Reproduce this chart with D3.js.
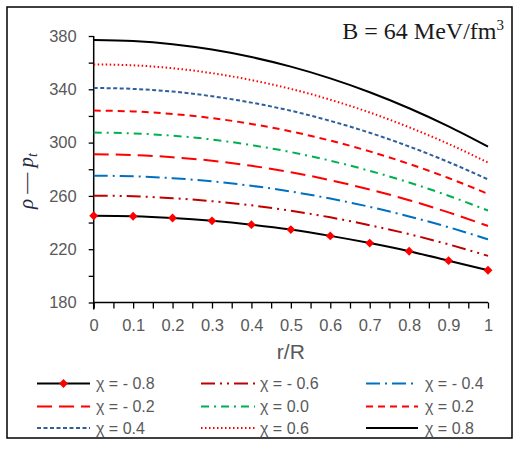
<!DOCTYPE html>
<html><head><meta charset="utf-8">
<script src="https://cdn.jsdelivr.net/npm/d3@7"></script>
<style>body{margin:0;background:#fff}svg{display:block}</style>
</head><body>
<script>
const xs = [0,0.1,0.2,0.3,0.4,0.5,0.6,0.7,0.8,0.9,1];
const chiLabels = ["χ = - 0.8","χ = - 0.6","χ = - 0.4","χ = - 0.2","χ = 0.0","χ = 0.2","χ = 0.4","χ = 0.6","χ = 0.8"];
const sM08 = [245.1,244.7,243.4,241.3,238.4,234.7,230.0,224.6,218.5,211.4,204.2];
const sM06 = [260.2,259.7,258.3,256.0,252.9,248.8,243.9,238.0,231.3,223.6,215.0];
const sM04 = [275.2,274.7,273.3,270.9,267.6,263.3,258.0,251.8,244.6,236.5,227.4];
const sM02 = [291.2,290.7,289.0,286.4,282.6,277.8,271.8,264.8,256.8,247.6,237.4];
const s00  = [307.5,306.9,305.2,302.3,298.1,292.9,286.4,278.8,270.1,260.1,249.0];
const s02  = [324.0,323.4,321.5,318.4,314.0,308.4,301.5,293.4,284.0,273.4,261.5];
const s04  = [341.0,340.3,338.3,334.8,330.0,323.9,316.3,307.4,297.1,285.4,272.4];
const s06  = [358.7,358.0,355.8,352.1,346.9,340.3,332.2,322.6,311.5,299.0,285.0];
const s08  = [377.0,376.2,373.8,369.8,364.2,357.0,348.2,337.8,325.8,312.2,297.0];
const yTicks = [180,220,260,300,340,380];
const xTickLabels = ["0","0.1","0.2","0.3","0.4","0.5","0.6","0.7","0.8","0.9","1"];

const series = [
  {name:chiLabels[0], vals:sM08, color:"#000000", dash:null, marker:true},
  {name:chiLabels[1], vals:sM06, color:"#C00000", dash:"14,5,2,5,2,5", marker:false},
  {name:chiLabels[2], vals:sM04, color:"#0070C0", dash:"14,5,2,5", marker:false},
  {name:chiLabels[3], vals:sM02, color:"#FF0000", dash:"15,7", marker:false},
  {name:chiLabels[4], vals:s00,  color:"#00B050", dash:"8,5,2,5", marker:false},
  {name:chiLabels[5], vals:s02,  color:"#FF0000", dash:"7,5", marker:false},
  {name:chiLabels[6], vals:s04,  color:"#2E5F9A", dash:"4,2.5", marker:false},
  {name:chiLabels[7], vals:s06,  color:"#FF0000", dash:"1.5,2.5", marker:false},
  {name:chiLabels[8], vals:s08,  color:"#000000", dash:null, marker:false}
];

const W=525,H=450;
const svg=d3.select("body").append("svg").attr("width",W).attr("height",H);
svg.append("rect").attr("x",7).attr("y",7).attr("width",505).attr("height",431)
  .attr("fill","#fff").attr("stroke","#000").attr("stroke-width",1.5);

const x=d3.scaleLinear().domain([0,1]).range([93.7,488]);
const y=d3.scaleLinear().domain([180,380]).range([302.5,36]);
const font="'Liberation Sans', Arial, sans-serif";

// axes
const yAxis=d3.axisLeft(y).tickValues(d3.range(180,381,20)).tickSize(5)
  .tickFormat(d=>yTicks.includes(d)?String(d):"");
const gy=svg.append("g").attr("transform",`translate(${x(0)},0)`).call(yAxis);
gy.select(".domain").remove();
gy.selectAll("line").attr("stroke","#000").attr("stroke-width",1.3);
gy.selectAll("text").attr("font-family",font).attr("font-size",16.5).attr("fill","#595959").attr("x",-17);

const xAxis=d3.axisBottom(x).tickValues(d3.range(0,1.0001,0.05)).tickSize(6)
  .tickFormat((d,i)=> i%2===0 ? xTickLabels[i/2] : "");
const gx=svg.append("g").attr("transform",`translate(0,${y(180)})`).call(xAxis);
gx.select(".domain").remove();
gx.selectAll("line").attr("stroke","#000").attr("stroke-width",1.3);
gx.selectAll("text").attr("font-family",font).attr("font-size",16.5).attr("fill","#595959").attr("y",17);

svg.append("line").attr("x1",x(0)).attr("x2",x(0)).attr("y1",y(380)).attr("y2",y(180)+7)
  .attr("stroke","#000").attr("stroke-width",1.5);
svg.append("line").attr("x1",x(0)).attr("x2",x(1)).attr("y1",y(180)).attr("y2",y(180))
  .attr("stroke","#000").attr("stroke-width",1.5);

// lines
const line=d3.line().x((d,i)=>x(xs[i])).y(d=>y(d)).curve(d3.curveMonotoneX);
const sorted=[...series].reverse();
sorted.forEach(s=>{
  svg.append("path").datum(s.vals).attr("d",line).attr("fill","none")
    .attr("stroke",s.color).attr("stroke-width",2)
    .attr("stroke-dasharray",s.dash);
});
const diamond=d3.symbol().type(d3.symbolDiamond2).size(50);
series.filter(s=>s.marker).forEach(s=>{
  svg.append("g").selectAll("path").data(s.vals).join("path")
    .attr("d",diamond).attr("transform",(d,i)=>`translate(${x(xs[i])},${y(d)})`)
    .attr("fill","#FF0000");
});

// axis titles
svg.append("text").attr("x",(x(0)+x(1))/2).attr("y",359).attr("text-anchor","middle")
  .attr("font-family",font).attr("font-size",21).attr("fill","#595959").text("r/R");
const yt=svg.append("text").attr("transform","translate(33,181) rotate(-90)")
  .attr("text-anchor","middle").attr("font-family","'Liberation Serif', serif")
  .attr("font-size",21).attr("fill","#1f2a44");
yt.append("tspan").attr("font-style","italic").text("ρ");
yt.append("tspan").text(" — ");
yt.append("tspan").attr("font-style","italic").text("p");
yt.append("tspan").attr("font-style","italic").attr("font-size",14).attr("dy",4).text("t");

const bt=svg.append("text").attr("x",504).attr("y",39).attr("text-anchor","end")
  .attr("font-family","'Liberation Serif', serif").attr("font-size",24).attr("fill","#1a1a1a");
bt.append("tspan").text("B = 64 MeV/fm");
bt.append("tspan").attr("font-size",15).attr("dy",-9).text("3");

// legend
const colX=[[37,90,96],[201,255,260],[366,418,425]];
const rowY=[383.5,406.5,428];
series.forEach((s,i)=>{
  const c=colX[i%3], r=rowY[Math.floor(i/3)];
  svg.append("line").attr("x1",c[0]).attr("x2",c[1]).attr("y1",r).attr("y2",r)
    .attr("stroke",s.color).attr("stroke-width",2).attr("stroke-dasharray",s.dash);
  if(s.marker){
    svg.append("path").attr("d",diamond).attr("transform",`translate(${(c[0]+c[1])/2},${r})`).attr("fill","#FF0000");
  }
  svg.append("text").attr("x",c[2]).attr("y",r+5.5).attr("font-family",font)
    .attr("font-size",16).attr("fill","#595959").text(s.name);
});
</script>
</body></html>
